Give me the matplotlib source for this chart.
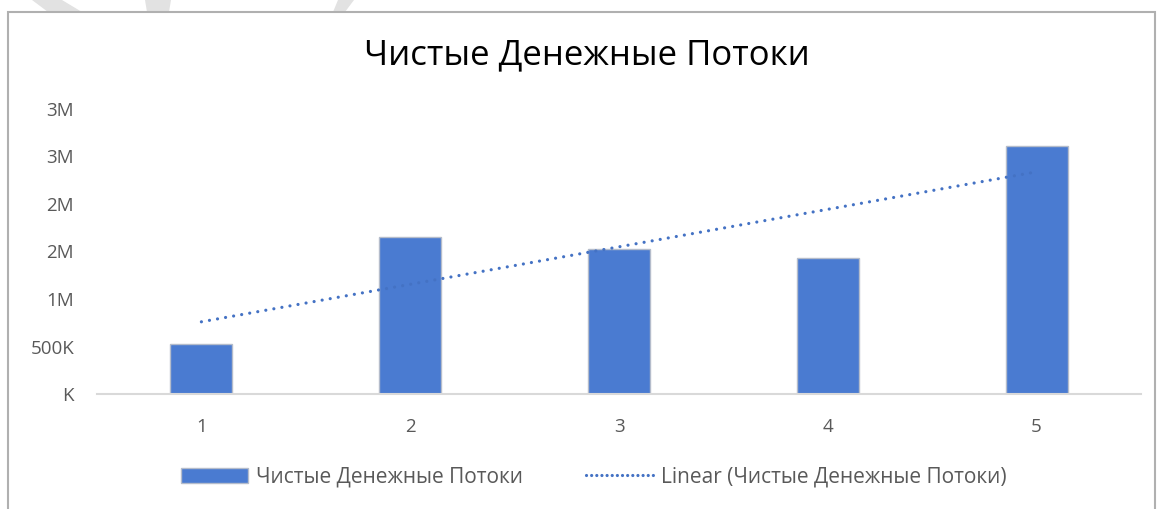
import matplotlib
matplotlib.use("Agg")
import matplotlib.pyplot as plt
import numpy as np
from matplotlib.patches import Polygon, Rectangle
from matplotlib.lines import Line2D
from matplotlib.ticker import FixedLocator

categories = [1, 2, 3, 4, 5]
values = [526000, 1653000, 1526000, 1432000, 2610000]
series_name = "Чистые Денежные Потоки"
trend_name = "Linear (Чистые Денежные Потоки)"
y_ticks = [0, 500000, 1000000, 1500000, 2000000, 2500000, 3000000]
y_tick_labels = ["K", "500K", "1M", "2M", "2M", "3M", "3M"]

W, H = 1158, 509
fig = plt.figure(figsize=(W / 100, H / 100), dpi=100)
fig.patch.set_facecolor("white")

font = "Open Sans"
plt.rcParams["font.family"] = [font, "DejaVu Sans"]

# faint watermark shapes at top
def px(x, y):
    return (x / W, 1 - y / H)

for pts in [[(32, 0), (62, 0), (82, 12), (48, 12)],
            [(145, 0), (171, 0), (169, 12), (147, 12)],
            [(338, 0), (354, 0), (345, 12), (333, 12)]]:
    fig.patches.append(Polygon([px(*p) for p in pts], closed=True,
                               transform=fig.transFigure, facecolor="#e2e2e2",
                               edgecolor="none", zorder=0))

# chart border
fig.patches.append(Rectangle(px(8, 520), (1155 - 8) / W, (520 - 12) / H,
                             transform=fig.transFigure, facecolor="none",
                             edgecolor="#b0b0b0", linewidth=1.5, zorder=1))

ax = fig.add_axes([97 / W, 115 / H, (1141 - 97) / W, (394 - 109) / H])
x = np.array(categories, dtype=float)
y = np.array(values, dtype=float)
bar_color = "#4A7BD1"
ax.bar(x, y, width=0.297, color=bar_color, edgecolor="#b4bccb", linewidth=1.0, zorder=2)

slope, intercept = np.polyfit(x, y, 1)
tx = np.array([x.min(), x.max()])
ax.plot(tx, slope * tx + intercept, color="#4472C4", linewidth=2.3,
        dashes=(0.01, 2.55), dash_capstyle="round", solid_capstyle="round", zorder=3)

ax.set_xlim(0.5, 5.5)
ax.set_ylim(0, 3000000)
ax.yaxis.set_major_locator(FixedLocator(y_ticks))
ax.set_yticklabels(y_tick_labels)
ax.set_xticks(categories)
ax.set_xticklabels([str(c) for c in categories])
for s in ["top", "right", "left"]:
    ax.spines[s].set_visible(False)
ax.spines["bottom"].set_color("#d9d9d9")
ax.spines["bottom"].set_linewidth(1.5)
ax.tick_params(axis="both", length=0, labelsize=13.5, colors="#595959")
ax.tick_params(axis="y", pad=16.5)
ax.tick_params(axis="x", pad=17)
ax.set_facecolor("none")

fig.text(587 / W, 1 - 55 / H, "Чистые Денежные Потоки", ha="center", va="center",
         fontsize=25, color="#000000")

handles = [Rectangle((0, 0), 1, 1, facecolor=bar_color, edgecolor="#b4bccb"),
           Line2D([], [], color="#4472C4", linewidth=2.3, dashes=(0.01, 1.6),
                  dash_capstyle="round")]
leg = fig.legend(handles, [series_name, trend_name], loc="center",
                 bbox_to_anchor=(594 / W, 1 - 477 / H), ncol=2, frameon=False,
                 fontsize=15, handlelength=3.2, handleheight=0.7, columnspacing=3.0,
                 handletextpad=0.4)
for t in leg.get_texts():
    t.set_color("#595959")

fig.savefig("out.png", dpi=100, facecolor="white")
